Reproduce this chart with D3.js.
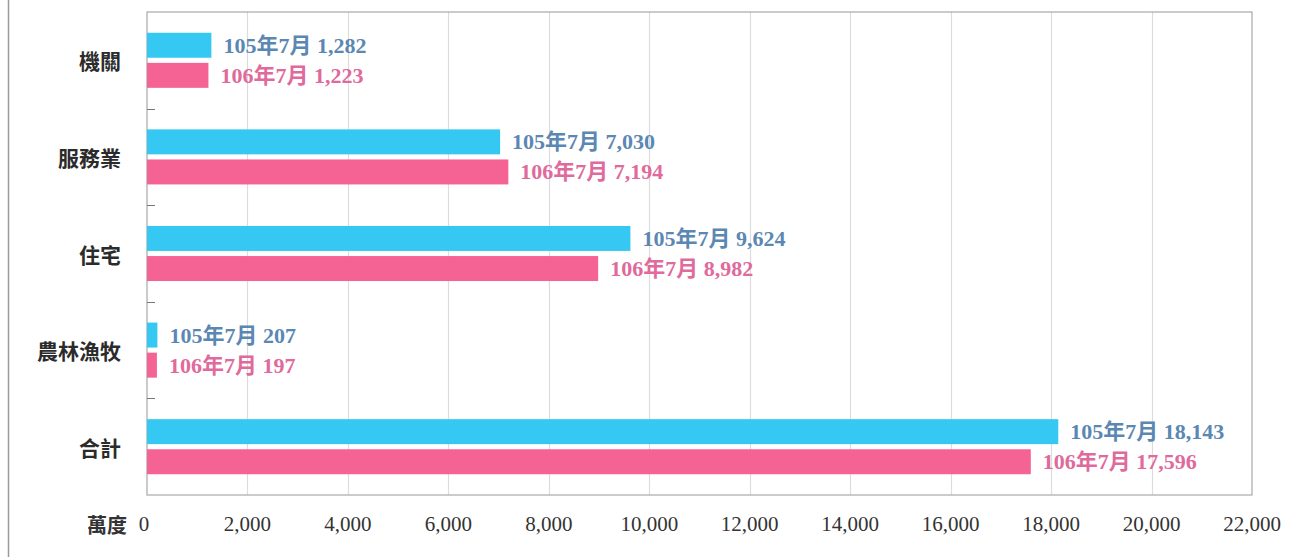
<!DOCTYPE html>
<html>
<head>
<meta charset="utf-8">
<script src="https://cdn.jsdelivr.net/npm/d3@7"></script>
<style>
  body { margin: 0; background: #fff; }
  svg { display: block; }
</style>
</head>
<body>
<svg id="chart" width="1299" height="557"></svg>
<script>
// data
const categories = ["機關", "服務業", "住宅", "農林漁牧", "合計"];
const seriesNames = ["105年7月", "106年7月"];
const values105 = [1282, 7030, 9624, 207, 18143];
const values106 = [1223, 7194, 8982, 197, 17596];
const xTicks = [0, 2000, 4000, 6000, 8000, 10000, 12000, 14000, 16000, 18000, 20000, 22000];

const barColors = ["#35c8f2", "#f46394"];
const labelColors = ["#5b87b3", "#e06a9c"];

const svg = d3.select("#chart");
const plotLeft = 147, plotRight = 1252, plotTop = 12, plotBottom = 495;

const x = d3.scaleLinear().domain([0, 22000]).range([plotLeft, plotRight]);
const y = d3.scaleBand().domain(categories).range([plotTop, plotBottom]);
const inner = d3.scaleBand().domain(seriesNames).range([0, y.bandwidth()]).paddingInner(0.17).paddingOuter(0.69);

// outer frame line on the left
svg.append("line")
  .attr("x1", 8.5).attr("x2", 8.5).attr("y1", 0).attr("y2", 557)
  .attr("stroke", "#9a9a9a").attr("stroke-width", 1.5);

// grid
svg.append("g").selectAll("line")
  .data(xTicks.slice(1, -1))
  .join("line")
  .attr("x1", d => Math.round(x(d)) + 0.5).attr("x2", d => Math.round(x(d)) + 0.5)
  .attr("y1", plotTop).attr("y2", plotBottom)
  .attr("stroke", "#dcdcdc").attr("stroke-width", 1.2);

// plot frame
svg.append("rect")
  .attr("x", plotLeft).attr("y", plotTop)
  .attr("width", plotRight - plotLeft).attr("height", plotBottom - plotTop)
  .attr("fill", "none").attr("stroke", "#a8a8a8").attr("stroke-width", 1.2);

// y band separator ticks (pointing inward)
svg.append("g").selectAll("line")
  .data(categories.slice(1))
  .join("line")
  .attr("x1", plotLeft).attr("x2", plotLeft + 8)
  .attr("y1", d => Math.round(y(d)) + 0.5).attr("y2", d => Math.round(y(d)) + 0.5)
  .attr("stroke", "#777").attr("stroke-width", 1);

// category labels
svg.append("g").selectAll("text")
  .data(categories)
  .join("text")
  .attr("x", 121)
  .attr("y", d => y(d) + y.bandwidth() / 2)
  .attr("text-anchor", "end")
  .attr("dominant-baseline", "central")
  .attr("font-family", "'Noto Sans CJK TC', sans-serif")
  .attr("font-weight", "bold")
  .attr("font-size", 21)
  .attr("fill", "#2b2b2b")
  .text(d => d);

// x tick labels
svg.append("g").selectAll("text")
  .data(xTicks)
  .join("text")
  .attr("x", d => x(d))
  .attr("y", 524)
  .attr("text-anchor", "middle")
  .attr("dominant-baseline", "central")
  .attr("font-family", "'Liberation Serif', serif")
  .attr("font-size", 21)
  .attr("fill", "#333")
  .attr("dx", d => d === 0 ? -3 : 0)
  .text(d => d3.format(",")(d));

svg.append("text")
  .attr("x", 127).attr("y", 524)
  .attr("text-anchor", "end")
  .attr("dominant-baseline", "central")
  .attr("font-family", "'Noto Sans CJK TC', sans-serif")
  .attr("font-weight", "bold")
  .attr("font-size", 20)
  .attr("fill", "#333")
  .text("萬度");

// bars
const rows = categories.map((c, i) => ({
  cat: c,
  vals: [values105[i], values106[i]]
}));

const groups = svg.append("g").selectAll("g")
  .data(rows)
  .join("g")
  .attr("transform", d => `translate(0,${y(d.cat)})`);

groups.selectAll("rect")
  .data(d => d.vals.map((v, j) => ({ v, s: seriesNames[j], j })))
  .join("rect")
  .attr("x", x(0))
  .attr("y", d => inner(d.s))
  .attr("width", d => x(d.v) - x(0))
  .attr("height", inner.bandwidth())
  .attr("fill", d => barColors[d.j]);

groups.selectAll("text")
  .data(d => d.vals.map((v, j) => ({ v, s: seriesNames[j], j })))
  .join("text")
  .attr("x", d => x(d.v) + 12)
  .attr("y", d => inner(d.s) + inner.bandwidth() / 2)
  .attr("dominant-baseline", "central")
  .attr("font-family", "'Liberation Serif', 'Noto Sans CJK TC', serif")
  .attr("font-weight", "bold")
  .attr("font-size", 22)
  .attr("fill", d => labelColors[d.j])
  .text(d => `${d.s} ${d3.format(",")(d.v)}`);
</script>
</body>
</html>
